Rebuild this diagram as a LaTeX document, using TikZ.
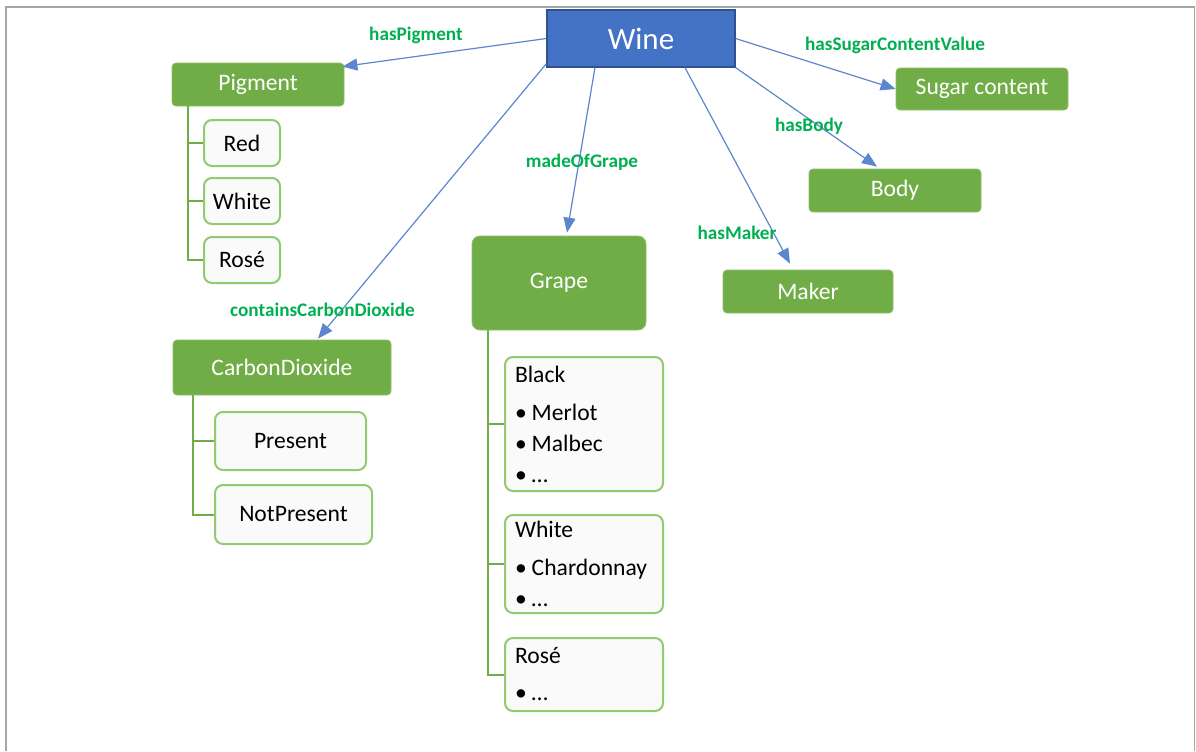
\documentclass[tikz,border=0pt]{standalone}
\usepackage{fontspec}
\setmainfont{Carlito}
\usepackage{xcolor}
\usepackage{tikz}
\usetikzlibrary{calc}
\usetikzlibrary{arrows.meta}

\definecolor{winefill}{HTML}{4472C4}
\definecolor{wineedge}{HTML}{2F528F}
\definecolor{classfill}{HTML}{70AD47}
\definecolor{classedge}{HTML}{8CC068}
\definecolor{leafedge}{HTML}{92CA72}
\definecolor{leaffill}{HTML}{FAFAFA}
\definecolor{relline}{HTML}{5B86D0}
\definecolor{rellabel}{HTML}{00B050}
\definecolor{framegray}{HTML}{A6A6A6}

\newcommand{\itm}{•\kern2.5pt}

\begin{document}
\begin{tikzpicture}[x=0.5pt,y=-0.5pt,
   root/.style={draw=wineedge,fill=winefill,text=white,line width=0.6pt,
      minimum width=94pt,minimum height=28.5pt,inner sep=0pt,
      font=\fontsize{15.5}{18}\selectfont},
   cls/.style={draw=classedge,fill=classfill,text=white,rounded corners=2pt,
      line width=0.4pt,inner sep=0pt,font=\fontsize{11.8}{14}\selectfont},
   leaf/.style={draw=leafedge,fill=leaffill,text=black,rounded corners=4pt,
      line width=1pt,inner sep=0pt,font=\fontsize{11.8}{14}\selectfont},
   list/.style={align=left,text width=69pt,inner xsep=5pt,minimum width=79pt,
      font=\fontsize{11.8}{15.5}\selectfont},
   tree/.style={draw=classfill,line width=1pt},
   rel/.style={draw=relline,line width=0.6pt,-{Triangle[length=7.5pt,width=6pt]}},
   lbl/.style={text=rellabel,font=\bfseries\fontsize{9.6}{11}\selectfont,inner sep=1pt}]

\fill[white] (0,0) rectangle (1196,751);
\useasboundingbox (0,0) rectangle (1196,751);
\draw[framegray,line width=0.75pt] (6,751) |- (1194.5,7) -- (1194.5,751);

% classes
\node[root] (wine) at (641,38.5) {Wine};
\node[cls,minimum width=86pt,minimum height=21.5pt] (pigment) at (258,84.5) {Pigment};
\node[cls,minimum width=86pt,minimum height=21pt] (sugar) at (982,89) {Sugar content};
\node[cls,minimum width=86pt,minimum height=21.5pt] (body) at (895,190.5) {Body};
\node[cls,minimum width=85pt,minimum height=21.5pt] (maker) at (808,291.5) {Maker};
\node[cls,rounded corners=4pt,minimum width=87pt,minimum height=47pt] (grape) at (559,283) {Grape};
\node[cls,minimum width=109pt,minimum height=27.5pt] (co2) at (282,367.5) {CarbonDioxide};

% values
\node[leaf,minimum width=38pt,minimum height=23pt] (red) at (242,143) {Red};
\node[leaf,minimum width=38pt,minimum height=23pt] (white) at (242,201) {White};
\node[leaf,minimum width=38pt,minimum height=23pt] (rose) at (242,260) {Rosé};
\node[leaf,minimum width=75.5pt,minimum height=29pt] (present) at (290.5,441) {Present};
\node[leaf,minimum width=78.5pt,minimum height=29.5pt] (notpresent) at (293.5,514.5) {NotPresent};
\node[leaf,list,minimum height=67pt] (black) at (584,424)
   {Black\\[3.5pt] \itm Merlot\\ \itm Malbec\\ \itm …};
\node[leaf,list,minimum height=49pt] (gwhite) at (584,564)
   {White\\[3.5pt] \itm Chardonnay\\ \itm …};
\node[leaf,list,minimum height=36.5pt] (grose) at (584,674.5)
   {Rosé\\[3pt] \itm …};

% trees
\foreach \c in {red,white,rose}
   \draw[tree] ([xshift=8pt]pigment.south west) |- (\c.west);
\foreach \c in {present,notpresent}
   \draw[tree] ([xshift=10pt]co2.south west) |- (\c.west);
\foreach \c in {black,gwhite,grose}
   \draw[tree] ([xshift=8pt]grape.south west) |- (\c.west);

% relations
\draw[rel] (wine.west) -- ([xshift=-1pt,yshift=-2pt]pigment.north east);
\draw[rel] ([yshift=2pt]wine.south west) -- ([xshift=18pt,yshift=0.5pt]co2.north);
\draw[rel] ([xshift=-23pt]wine.south) -- ([xshift=4pt,yshift=1.5pt]grape.north);
\draw[rel] ([xshift=22pt]wine.south) -- ([xshift=-9pt,yshift=3pt]maker.north);
\draw[rel] (wine.south east) -- ([xshift=-9pt,yshift=1pt]body.north);
\draw[rel] (wine.east) -- (sugar.west);

\node[lbl] (lpigment) at (416,35) {hasPigment};
\node[lbl] (lco2) at (322.5,310) {containsCarbonDioxide};
\node[lbl] (lgrape) at (582,162) {madeOfGrape};
\node[lbl] (lmaker) at (737,233) {hasMaker};
\node[lbl] (lbody) at (809,126) {hasBody};
\node[lbl] (lsugar) at (895,45) {hasSugarContentValue};
\end{tikzpicture}
\end{document}
